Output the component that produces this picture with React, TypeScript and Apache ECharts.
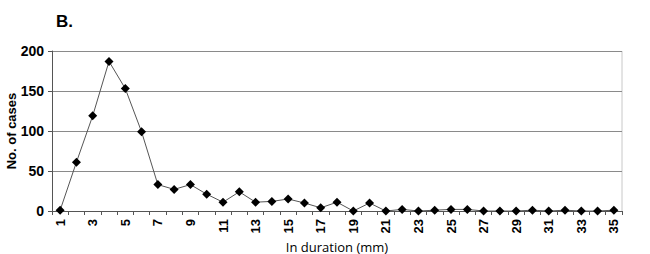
import React, { useEffect, useRef } from "react";
import * as echarts from "echarts";

const categories: string[] = Array.from({ length: 35 }, (_, i) => String(i + 1));
const cases: number[] = [
  1, 61, 119, 187, 153, 99, 33, 27, 33, 21,
  11, 24, 11, 12, 15, 10, 4, 11, 0, 10,
  0, 2, 0, 1, 2, 2, 0, 0, 0, 1,
  0, 1, 0, 0, 1,
];
const yTicks: number[] = [0, 50, 100, 150, 200];

export default function App() {
  const ref = useRef<HTMLDivElement>(null);
  useEffect(() => {
    if (!ref.current) return;
    const chart = echarts.init(ref.current, null, { renderer: "svg" });
    chart.setOption({
      animation: false,
      backgroundColor: "#ffffff",
      title: {
        text: "B.",
        left: 51,
        top: 8,
        textStyle: { fontFamily: "Liberation Sans", fontWeight: "bold", fontSize: 17, color: "#000" },
      },
      grid: { left: 52, right: 28, top: 51, bottom: 43, containLabel: false, outerBoundsMode: "none" },
      xAxis: {
        type: "category",
        data: categories,
        boundaryGap: true,
        name: "In duration (mm)",
        nameLocation: "middle",
        nameGap: 29,
        nameMoveOverlap: false,
        nameTextStyle: { fontFamily: "Open Sans", fontSize: 13, color: "#000", lineHeight: 13 },
        axisLine: { lineStyle: { color: "#555", width: 1 } },
        axisTick: { show: true, alignWithLabel: false, interval: 0, length: 4, lineStyle: { color: "#555" } },
        axisLabel: {
          interval: 1,
          rotate: 90,
          margin: 8,
          fontFamily: "Liberation Sans",
          fontWeight: "bold",
          fontSize: 13,
          color: "#000",
        },
        splitLine: { show: false },
      },
      yAxis: {
        type: "value",
        min: 0,
        max: 200,
        interval: 50,
        name: "No. of cases",
        nameLocation: "middle",
        nameGap: 34,
        nameMoveOverlap: false,
        nameTextStyle: { fontFamily: "Liberation Sans", fontWeight: "bold", fontSize: 13, color: "#000" },
        axisLine: { show: true, lineStyle: { color: "#555", width: 1 } },
        axisTick: { show: true, length: 4, lineStyle: { color: "#555" } },
        axisLabel: {
          margin: 8,
          fontFamily: "Liberation Sans",
          fontWeight: "bold",
          fontSize: 14,
          color: "#000",
          formatter: (v: number) => (yTicks.includes(v) ? String(v) : ""),
        },
        splitLine: { show: true, lineStyle: { color: "#8a8a8a", width: 1 } },
      },
      graphic: [
        {
          type: "line",
          shape: { x1: 622, y1: 51, x2: 622, y2: 211 },
          style: { stroke: "#c8c8c8", lineWidth: 1 },
        },
      ],
      series: [
        {
          type: "line",
          data: cases,
          symbol: "diamond",
          symbolSize: 9,
          itemStyle: { color: "#000" },
          lineStyle: { color: "#555", width: 1 },
        },
      ],
    });
    return () => chart.dispose();
  }, []);
  return <div ref={ref} style={{ width: 650, height: 254, position: "absolute", left: 0, top: 0 }} />;
}
